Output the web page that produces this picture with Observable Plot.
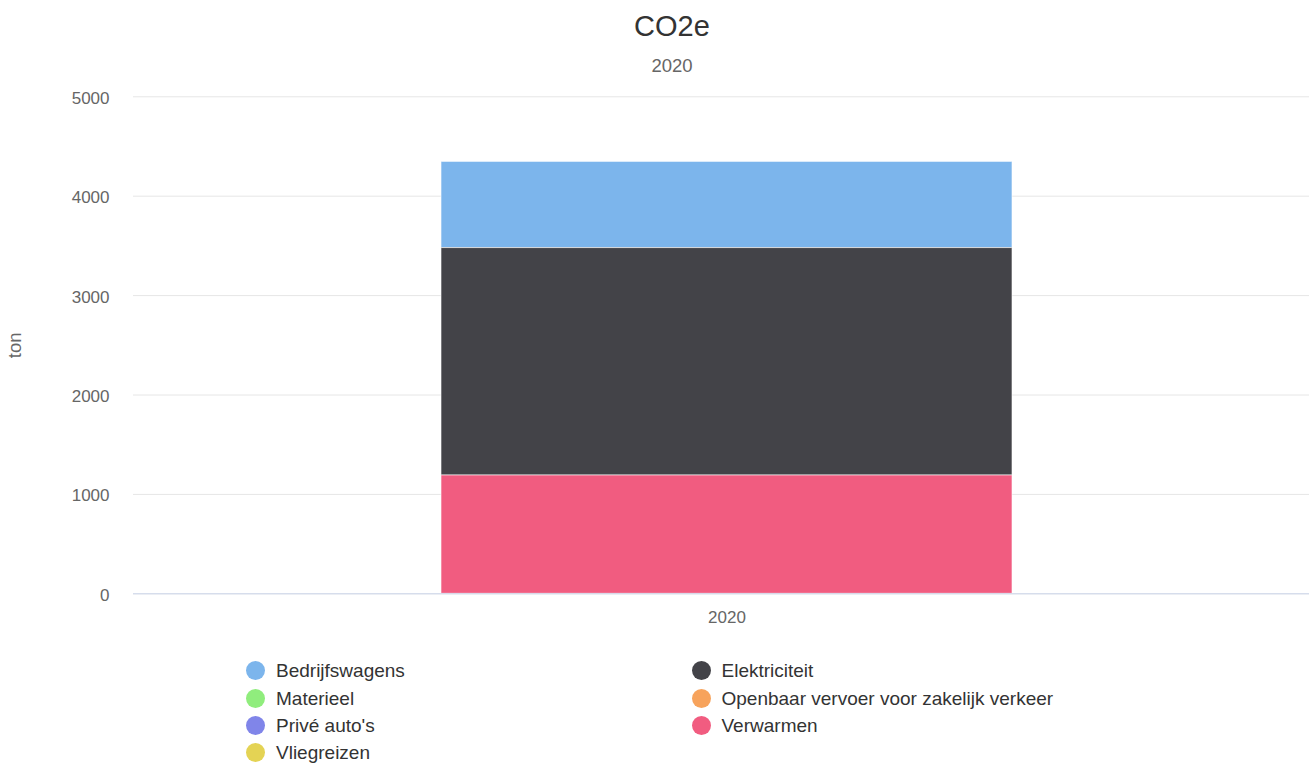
<!DOCTYPE html>
<html>
<head>
<meta charset="utf-8">
<script src="https://cdn.jsdelivr.net/npm/d3@7"></script>
<script src="https://cdn.jsdelivr.net/npm/@observablehq/plot@0.6"></script>
<style>
  html, body { margin: 0; padding: 0; overflow: hidden; background: #fff; width: 1309px; height: 763px; }
  body { position: relative; font-family: "Liberation Sans", Arial, Helvetica, sans-serif; }
  .abs { position: absolute; line-height: 1; white-space: nowrap; }
  #title { top: 12px; left: 0; width: 1344px; text-align: center; font-size: 29px; color: #333333; }
  #subtitle { top: 57px; left: 0; width: 1344px; text-align: center; font-size: 18.5px; color: #666666; }
  #chart { position: absolute; top: 80px; left: 0; width: 1321px; }
  #chart svg { max-width: none !important; }
  .leg { font-size: 19px; color: #333333; }
  .dot { position: absolute; width: 19px; height: 19px; border-radius: 50%; }
</style>
</head>
<body>
<div id="title" class="abs">CO2e</div>
<div id="subtitle" class="abs">2020</div>
<div id="chart"></div>
<div id="legend"></div>
<script>
const categories = ["2020"];
const series = ["Bedrijfswagens", "Elektriciteit", "Materieel", "Openbaar vervoer voor zakelijk verkeer", "Privé auto's", "Verwarmen", "Vliegreizen"];
const values2020 = [867, 2288, 0, 0, 0, 1190, 0];
const colors = ["#7cb5ec", "#434348", "#90ed7d", "#f7a35c", "#8085e9", "#f15c80", "#e4d354"];
const yTicks = [0, 1000, 2000, 3000, 4000, 5000];
const yLabel = "ton";

const data = [];
categories.forEach((c, ci) => {
  series.forEach((s, si) => {
    data.push({category: c, series: s, value: [values2020][ci][si]});
  });
});

const chart = Plot.plot({
  width: 1321,
  height: 560,
  marginLeft: 133,
  marginRight: 0,
  marginTop: 16.3,
  marginBottom: 46.7,
  style: {fontFamily: '"Liberation Sans", Arial, Helvetica, sans-serif', fontSize: "17px", background: "#fff", maxWidth: "none"},
  x: {domain: categories, padding: 0.35, label: null},
  y: {domain: [0, 5000], label: null},
  color: {domain: series, range: colors},
  marks: [
    Plot.gridY(yTicks, {stroke: "#e6e6e6", strokeOpacity: 1}),
    Plot.axisY(yTicks, {tickSize: 0, tickPadding: 24, fill: "#666666", fontSize: 17, dy: 1.5, label: null, tickFormat: d => String(d)}),
    Plot.axisX({tickSize: 0, tickPadding: 17, fill: "#666666", fontSize: 17, label: null}),
    Plot.barY(data, Plot.stackY({order: series.slice().reverse()}, {
      x: "category",
      y: "value",
      z: "series",
      fill: "series",
      stroke: "#ffffff",
      strokeWidth: 1,
      strokeOpacity: 0.6
    })),
    Plot.ruleY([0], {stroke: "#ccd6eb", strokeWidth: 1}),
    Plot.text([yLabel], {frameAnchor: "left", dx: -118, rotate: -90, fill: "#666666", fontSize: 18.5, textAnchor: "middle", lineAnchor: "middle"})
  ]
});
document.getElementById("chart").appendChild(chart);

// Legend (two columns, row-major, like the source)
const legend = document.getElementById("legend");
const colX = [246, 691.5];
const rowY = [670.7, 698, 725.3, 752.5];
series.forEach((s, i) => {
  const col = i % 2, row = Math.floor(i / 2);
  const dot = document.createElement("div");
  dot.className = "dot";
  dot.style.left = colX[col] + "px";
  dot.style.top = (rowY[row] - 9.5) + "px";
  dot.style.background = colors[i];
  legend.appendChild(dot);
  const t = document.createElement("div");
  t.className = "abs leg";
  t.textContent = s;
  t.style.left = (colX[col] + 30) + "px";
  t.style.top = (rowY[row] - 9.5) + "px";
  legend.appendChild(t);
});
</script>
</body>
</html>
